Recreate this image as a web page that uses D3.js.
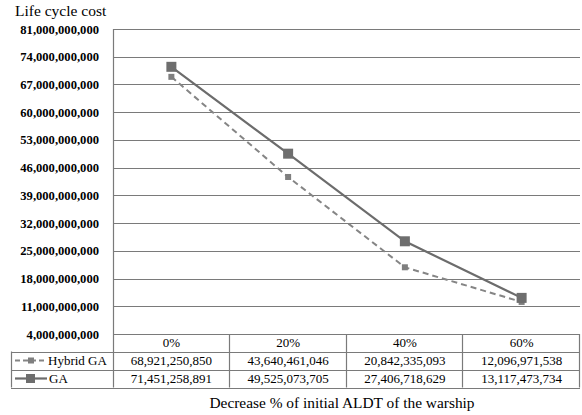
<!DOCTYPE html>
<html>
<head>
<meta charset="utf-8">
<script src="https://cdn.jsdelivr.net/npm/d3@7"></script>
<style>
  html, body { margin: 0; padding: 0; background: #fff; }
  svg { display: block; }
  text { font-family: "Liberation Serif", "Times New Roman", serif; fill: #000; }
</style>
</head>
<body>
<svg id="chart" width="582" height="415"></svg>
<script>
// Life cycle cost by decrease of initial ALDT
const categories = ["0%", "20%", "40%", "60%"];
const hybridGA = [68921250850, 43640461046, 20842335093, 12096971538];
const ga = [71451258891, 49525073705, 27406718629, 13117473734];
const yTicks = [4e9, 11e9, 18e9, 25e9, 32e9, 39e9, 46e9, 53e9, 60e9, 67e9, 74e9, 81e9];
const seriesNames = ["Hybrid GA", "GA"];

const svg = d3.select("#chart");
const plot = { left: 113, right: 580, top: 29, bottom: 334 };
const tableLeft = 11;
const rowH = [plot.bottom, 351.5, 369.5, 387.5];

const x = d3.scaleBand().domain(categories).range([plot.left, plot.right]).padding(0);
const y = d3.scaleLinear().domain([yTicks[0], yTicks[yTicks.length - 1]]).range([plot.bottom, plot.top]);
const cx = c => x(c) + x.bandwidth() / 2;
const fmt = d3.format(",");

const gridColor = "#7a7a7a";

// Horizontal gridlines
svg.append("g").selectAll("line").data(yTicks).join("line")
  .attr("x1", plot.left).attr("x2", plot.right)
  .attr("y1", d => Math.round(y(d)) + 0.5).attr("y2", d => Math.round(y(d)) + 0.5)
  .attr("stroke", gridColor).attr("stroke-width", 1.2);

// Left axis line
svg.append("line")
  .attr("x1", plot.left + 0.5).attr("x2", plot.left + 0.5)
  .attr("y1", plot.top).attr("y2", rowH[3])
  .attr("stroke", gridColor).attr("stroke-width", 1.2);

// Y tick labels
svg.append("g").selectAll("text").data(yTicks).join("text")
  .attr("x", 99).attr("y", d => y(d) + 4.5)
  .attr("text-anchor", "end")
  .attr("font-weight", "bold")
  .attr("font-size", "12.6px")
  .text(d => fmt(d));

// Axis title
svg.append("text").attr("x", 15).attr("y", 16)
  .attr("font-size", "15.5px").text("Life cycle cost");

// Series lines
const line = d3.line().x((d, i) => cx(categories[i])).y(d => y(d));

svg.append("path").datum(hybridGA)
  .attr("d", line).attr("fill", "none")
  .attr("stroke", "#858585").attr("stroke-width", 2)
  .attr("stroke-dasharray", "6,4");

svg.append("path").datum(ga)
  .attr("d", line).attr("fill", "none")
  .attr("stroke", "#6c6c6c").attr("stroke-width", 2.2);

// Markers
svg.append("g").selectAll("rect").data(hybridGA).join("rect")
  .attr("x", (d, i) => cx(categories[i]) - 3).attr("y", d => y(d) - 3)
  .attr("width", 6).attr("height", 6).attr("fill", "#7f7f7f");

svg.append("g").selectAll("rect").data(ga).join("rect")
  .attr("x", (d, i) => cx(categories[i]) - 5).attr("y", d => y(d) - 5)
  .attr("width", 10).attr("height", 10).attr("fill", "#6e6e6e");

// Data table
const tbl = svg.append("g").attr("stroke", gridColor).attr("stroke-width", 1.2);
// header row borders
tbl.append("line").attr("x1", plot.left).attr("x2", plot.right).attr("y1", rowH[0] + 0.5).attr("y2", rowH[0] + 0.5);
[1, 2, 3].forEach(i => {
  tbl.append("line").attr("x1", tableLeft).attr("x2", plot.right)
    .attr("y1", Math.round(rowH[i]) + 0.5).attr("y2", Math.round(rowH[i]) + 0.5);
});
tbl.append("line").attr("x1", tableLeft + 0.5).attr("x2", tableLeft + 0.5).attr("y1", rowH[1]).attr("y2", rowH[3]);
categories.forEach(c => {
  const xr = Math.round(x(c) + x.bandwidth()) - 0.5;
  tbl.append("line").attr("x1", xr).attr("x2", xr).attr("y1", rowH[0]).attr("y2", rowH[3]);
});

// Header labels
svg.append("g").selectAll("text").data(categories).join("text")
  .attr("x", d => cx(d)).attr("y", 347)
  .attr("text-anchor", "middle").attr("font-size", "13px").text(d => d);

// Value rows
[hybridGA, ga].forEach((vals, r) => {
  const by = (rowH[r + 1] + rowH[r + 2]) / 2 + 4.5;
  svg.append("g").selectAll("text").data(vals).join("text")
    .attr("x", (d, i) => cx(categories[i])).attr("y", by)
    .attr("text-anchor", "middle").attr("font-size", "13px").text(d => fmt(d));
});

// Legend keys in the table
const ly1 = (rowH[1] + rowH[2]) / 2;
const ly2 = (rowH[2] + rowH[3]) / 2;
svg.append("line").attr("x1", 15).attr("x2", 46).attr("y1", ly1).attr("y2", ly1)
  .attr("stroke", "#858585").attr("stroke-width", 2).attr("stroke-dasharray", "5,3");
svg.append("rect").attr("x", 28).attr("y", ly1 - 3).attr("width", 6).attr("height", 6).attr("fill", "#7f7f7f");
svg.append("line").attr("x1", 15).attr("x2", 47).attr("y1", ly2).attr("y2", ly2)
  .attr("stroke", "#6c6c6c").attr("stroke-width", 2.2);
svg.append("rect").attr("x", 26).attr("y", ly2 - 4.5).attr("width", 9).attr("height", 9).attr("fill", "#6e6e6e");

svg.append("text").attr("x", 48).attr("y", ly1 + 4.5).attr("font-size", "13px").text(seriesNames[0]);
svg.append("text").attr("x", 49).attr("y", ly2 + 4.5).attr("font-size", "13px").text(seriesNames[1]);

// X axis title
svg.append("text").attr("x", 342).attr("y", 408)
  .attr("text-anchor", "middle").attr("font-size", "15.4px")
  .text("Decrease % of initial ALDT of the warship");
</script>
</body>
</html>
